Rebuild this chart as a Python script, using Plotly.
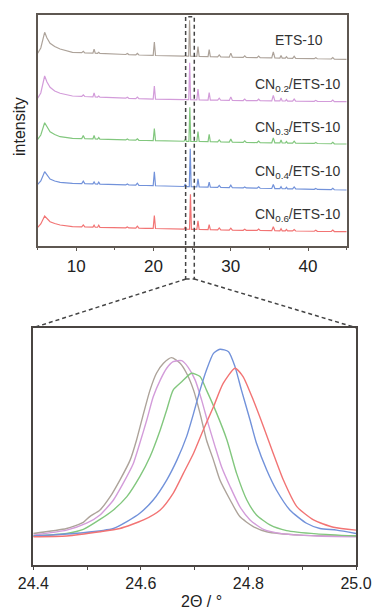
import numpy as np
import plotly.graph_objects as go

# ---------------- data ----------------
series_names = ["ETS-10", "CN<sub>0.2</sub>/ETS-10", "CN<sub>0.3</sub>/ETS-10",
                "CN<sub>0.4</sub>/ETS-10", "CN<sub>0.6</sub>/ETS-10"]
colors = ["#ada39a", "#d39cda", "#82c77e", "#7292da", "#f27474"]

# Top panel: background (incl. low-angle 6° reflection), stacked intensities (a.u.)
bg_x = [5.0, 5.4, 5.9, 6.2, 6.6, 7.2, 7.9, 9.5, 19.0, 29.0, 45.0]
bg_ets10 = [192.4, 197.7, 213.4, 207.7, 202.4, 199.2, 196.7, 193.4, 190.4, 188.7, 186.4]
bg_cn02 = [147.4, 152.7, 169.7, 163.7, 158.4, 154.7, 152.4, 149.7, 146.7, 145.4, 144.0]
bg_cn03 = [106.4, 110.7, 123.0, 118.7, 114.0, 111.2, 109.0, 107.4, 105.2, 103.7, 101.7]
bg_cn04 = [61.4, 64.7, 74.0, 70.7, 66.7, 64.7, 63.4, 62.4, 60.2, 58.2, 55.7]
bg_cn06 = [18.4, 21.7, 29.7, 27.2, 24.0, 22.2, 20.7, 19.0, 17.4, 15.7, 14.0]

# reflections (2θ) and their half widths; index 7 = main reflection (per sample)
peak_pos = [10.9, 12.3, 12.9, 16.6, 17.9, 20.1, 24.1, None, 25.75, 27.2, 28.5,
            30.0, 31.8, 33.6, 35.5, 36.5, 37.2, 38.2, 41.0, 43.2]
peak_halfwidth = [0.2, 0.15, 0.15, 0.2, 0.2, 0.15, 0.15, 0.12, 0.15, 0.15, 0.2,
                  0.2, 0.2, 0.2, 0.2, 0.15, 0.15, 0.2, 0.2, 0.2]
main_peak_x = [24.66, 24.675, 24.695, 24.745, 24.775]
h_ets10 = [1.5, 4, 1, 1, 1.5, 13.5, 0.5, 36, 10, 7, 2, 4, 1.5, 1.5, 6, 2.5, 1.5, 2, 1, 1.5]
h_cn02 = [1.5, 4, 1, 1, 1.5, 13, 0.5, 37, 10.7, 7.5, 2, 3.5, 1.5, 1.5, 5.5, 3, 1.5, 2, 1, 1.5]
h_cn03 = [3, 3.5, 1.5, 1, 1.5, 12, 2, 34, 10, 7.5, 2, 3, 1.5, 1.5, 5, 3, 1.5, 2, 1, 1.5]
h_cn04 = [2.5, 2, 2, 1, 2, 14, 2.5, 38, 8, 5, 2, 2.5, 1, 1.5, 4, 2, 1.5, 2, 1, 1.5]
h_cn06 = [2, 2, 2, 1, 2, 13, 2.5, 35, 8.5, 5, 2, 2, 1, 1.5, 4, 2, 1.5, 1.5, 1, 1.5]

# Bottom panel: zoom of main reflection (a.u.)
z_ets10_x = [24.400, 24.462, 24.493, 24.505, 24.524, 24.543, 24.561, 24.580, 24.592, 24.605,
             24.617, 24.629, 24.642, 24.657, 24.673, 24.685, 24.698, 24.710, 24.722, 24.735,
             24.747, 24.766, 24.784, 24.809, 24.834, 24.896, 25.000]
z_ets10_y = [13.3, 15.4, 18.0, 20.4, 23.2, 28.8, 35.8, 44.2, 52.7, 63.9,
             73.7, 80.8, 85.0, 87.4, 85.0, 80.8, 73.7, 63.9, 52.7, 44.2,
             35.8, 27.4, 20.4, 16.2, 14.0, 12.6, 12.2]
z_cn02_x = [24.400, 24.462, 24.499, 24.524, 24.549, 24.567, 24.586, 24.598, 24.611, 24.623,
            24.636, 24.648, 24.660, 24.676, 24.688, 24.701, 24.713, 24.725, 24.738, 24.750,
            24.766, 24.784, 24.803, 24.828, 24.865, 24.927, 25.000]
z_cn02_y = [12.6, 14.7, 17.6, 21.1, 27.4, 34.4, 42.8, 51.3, 61.1, 70.9,
            77.9, 82.9, 85.7, 86.1, 83.3, 77.9, 69.5, 59.7, 49.9, 41.4,
            33.0, 24.6, 19.0, 15.0, 13.1, 12.2, 11.9]
z_cn03_x = [24.400, 24.462, 24.493, 24.524, 24.549, 24.574, 24.598, 24.617, 24.636, 24.648,
            24.660, 24.676, 24.694, 24.710, 24.722, 24.741, 24.760, 24.778, 24.797, 24.815,
            24.840, 24.871, 24.927, 25.000]
z_cn03_y = [12.2, 13.3, 15.0, 19.2, 23.2, 28.8, 37.2, 45.6, 56.9, 65.3,
            73.7, 77.2, 80.8, 79.4, 73.7, 63.9, 52.7, 38.6, 27.4, 21.1,
            16.9, 14.5, 13.1, 12.2]
z_cn04_x = [24.400, 24.493, 24.549, 24.574, 24.598, 24.623, 24.648, 24.667, 24.685, 24.698,
            24.710, 24.722, 24.735, 24.747, 24.763, 24.775, 24.787, 24.803, 24.815, 24.834,
            24.852, 24.877, 24.908, 24.933, 24.964, 25.000]
z_cn04_y = [12.2, 13.6, 15.4, 18.3, 21.8, 27.4, 35.8, 44.2, 54.1, 63.9,
            73.7, 82.2, 89.2, 90.9, 89.9, 83.6, 73.7, 61.1, 51.3, 40.0,
            31.6, 23.2, 17.6, 15.4, 14.7, 13.3]
z_cn06_x = [24.400, 24.462, 24.524, 24.561, 24.605, 24.636, 24.660, 24.679, 24.698, 24.716,
            24.735, 24.753, 24.775, 24.790, 24.809, 24.828, 24.846, 24.865, 24.890, 24.921,
            24.958, 25.000]
z_cn06_y = [11.9, 12.2, 14.0, 15.4, 19.0, 23.2, 30.2, 38.6, 47.1, 56.9,
            66.7, 76.5, 82.9, 79.4, 69.5, 58.3, 47.1, 35.8, 24.6, 19.0,
            15.9, 14.7]

top_x_ticks = [10, 20, 30, 40]
bottom_x_ticks = [24.4, 24.6, 24.8, 25.0]
bottom_x_ticktext = ["24.4", "24.6", "24.8", "25.0"]

# ---------------- build ----------------
backgrounds = [bg_ets10, bg_cn02, bg_cn03, bg_cn04, bg_cn06]
heights = [h_ets10, h_cn02, h_cn03, h_cn04, h_cn06]
zooms = [(z_ets10_x, z_ets10_y), (z_cn02_x, z_cn02_y), (z_cn03_x, z_cn03_y),
         (z_cn04_x, z_cn04_y), (z_cn06_x, z_cn06_y)]

FONT = "Liberation Sans, Arial, sans-serif"
W, H = 373, 613

fig = go.Figure()

for i in range(5):
    bgy = backgrounds[i]
    pts = list(zip(bg_x, bgy))
    for j, p in enumerate(peak_pos):
        pos = main_peak_x[i] if p is None else p
        w = peak_halfwidth[j]
        hgt = heights[i][j]
        pts.append((pos - w, float(np.interp(pos - w, bg_x, bgy))))
        pts.append((pos, float(np.interp(pos, bg_x, bgy)) + hgt))
        pts.append((pos + w, float(np.interp(pos + w, bg_x, bgy))))
    pts.sort(key=lambda t: t[0])
    fig.add_trace(go.Scatter(x=[p[0] for p in pts], y=[p[1] for p in pts],
                             mode="lines", line=dict(color=colors[i], width=1.2),
                             xaxis="x", yaxis="y", hoverinfo="skip"))

for i in range(5):
    zx, zy = zooms[i]
    fig.add_trace(go.Scatter(x=zx, y=zy, mode="lines",
                             line=dict(color=colors[i], width=1.4, shape="spline", smoothing=0.6),
                             xaxis="x2", yaxis="y2", hoverinfo="skip"))

axis_col_top = "#5e5751"
axis_col_bot = "#4a4542"
tick_font = dict(family=FONT, size=17, color="#222222")

fig.update_layout(
    width=W, height=H, margin=dict(l=0, r=0, t=0, b=0, autoexpand=False),
    paper_bgcolor="white", plot_bgcolor="white", showlegend=False,
    xaxis=dict(domain=[37.7 / W, 346.7 / W], range=[5, 45], anchor="y", automargin=False,
               tickvals=top_x_ticks, ticks="outside", ticklen=4, tickwidth=1,
               tickcolor=axis_col_top, showline=True, linecolor=axis_col_top, linewidth=1.5,
               mirror=True, showgrid=False, zeroline=False, tickfont=tick_font,
               minor=dict(dtick=5, tick0=0, ticks="outside", ticklen=3, tickcolor=axis_col_top)),
    yaxis=dict(domain=[1 - 245.7 / H, 1 - 15 / H], range=[0, 230.7], anchor="x", automargin=False,
               showticklabels=False, ticks="", showline=True, linecolor=axis_col_top,
               linewidth=1.5, mirror=True, showgrid=False, zeroline=False),
    xaxis2=dict(domain=[33.3 / W, 356 / W], range=[24.4, 25.0], anchor="y2", automargin=False,
                tickvals=bottom_x_ticks, ticktext=bottom_x_ticktext, ticks="outside",
                ticklen=3, tickwidth=1, tickcolor=axis_col_bot, showline=True,
                linecolor=axis_col_bot, linewidth=2, mirror=True, showgrid=False,
                zeroline=False, tickfont=dict(family=FONT, size=16, color="#222222"),
                minor=dict(dtick=0.1, tick0=24.4, ticks="outside", ticklen=3,
                           tickcolor=axis_col_bot)),
    yaxis2=dict(domain=[1 - 565 / H, 1 - 327.7 / H], range=[0, 100], anchor="x2", automargin=False,
                showticklabels=False, ticks="", showline=True, linecolor=axis_col_bot,
                linewidth=2, mirror=True, showgrid=False, zeroline=False),
)

# series labels
label_font = dict(family=FONT, size=14, color="#333333")
fig.add_annotation(text=series_names[0], x=299 / W, y=1 - 40 / H, xref="paper", yref="paper",
                   showarrow=False, font=label_font, xanchor="center", yanchor="middle")
for name, yc in zip(series_names[1:], [85, 128.3, 172.3, 215]):
    fig.add_annotation(text=name, x=342 / W, y=1 - yc / H, xref="paper", yref="paper",
                       showarrow=False, font=label_font, xanchor="right", yanchor="middle")

fig.add_annotation(text="intensity", x=20 / W, y=1 - 127 / H, xref="paper", yref="paper",
                   showarrow=False, textangle=-90, xanchor="center", yanchor="middle",
                   font=dict(family=FONT, size=16, color="#222222"))
fig.add_annotation(text="2Θ / °", x=201 / W, y=1 - 601 / H, xref="paper", yref="paper",
                   showarrow=False, xanchor="center", yanchor="middle",
                   font=dict(family=FONT, size=16, color="#222222"))

# zoom indicator (dashed)
dash_line = dict(color="#444444", width=1.5, dash="4px,3px")
box_x0, box_x1 = 24.15, 25.27
box_y0, box_y1 = 1 - 279 / H, 1 - 16.7 / H
fig.add_shape(type="rect", xref="x", yref="paper", x0=box_x0, x1=box_x1,
              y0=box_y0, y1=box_y1, line=dash_line)
fig.add_shape(type="line", xref="paper", yref="paper", x0=186 / W, y0=box_y0,
              x1=33.3 / W, y1=1 - 327.7 / H, line=dash_line)
fig.add_shape(type="line", xref="paper", yref="paper", x0=194.3 / W, y0=box_y0,
              x1=356 / W, y1=1 - 327.7 / H, line=dash_line)

fig.write_html("out.html", config={"displayModeBar": False},
               post_script="document.body.style.margin='0';document.body.style.overflow='hidden';")
